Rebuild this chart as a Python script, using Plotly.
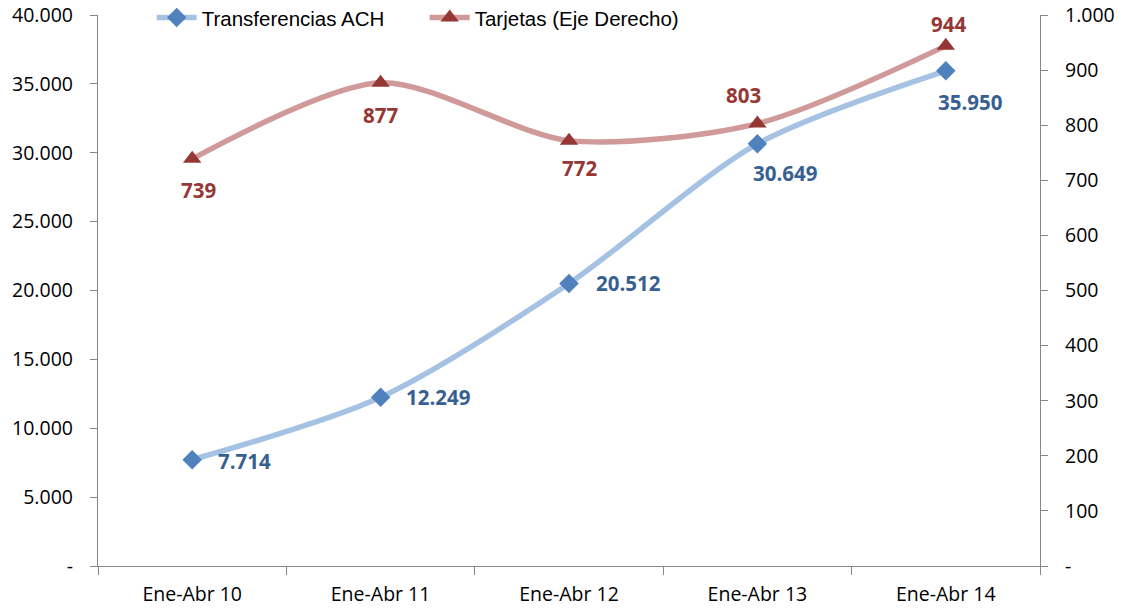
import plotly.graph_objects as go

categories = ["Ene-Abr 10", "Ene-Abr 11", "Ene-Abr 12", "Ene-Abr 13", "Ene-Abr 14"]
ach = [7714, 12249, 20512, 30649, 35950]
tarjetas = [739, 877, 772, 803, 944]
ach_labels = ["7.714", "12.249", "20.512", "30.649", "35.950"]
tar_labels = ["739", "877", "772", "803", "944"]
left_ticks = [0, 5000, 10000, 15000, 20000, 25000, 30000, 35000, 40000]
left_ticktext = ["-", "5.000", "10.000", "15.000", "20.000", "25.000", "30.000", "35.000", "40.000"]
right_ticks = [0, 100, 200, 300, 400, 500, 600, 700, 800, 900, 1000]
right_ticktext = ["-", "100", "200", "300", "400", "500", "600", "700", "800", "900", "1.000"]

# label placement styles (xanchor, yanchor, xshift, yshift)
ach_pos = [("left", "middle", 24, -1), ("left", "middle", 23, 0), ("left", "middle", 25, 0),
           ("center", "top", 28, -13), ("center", "top", 24, -15)]
tar_pos = [("center", "top", 6, -15), ("center", "top", 0, -16), ("center", "top", 10, -11),
           ("center", "bottom", -14, 13), ("center", "bottom", 3, 6)]

BLUE_LINE = "#A6C2E3"
BLUE_MK = "#4F81BD"
BLUE_TXT = "#376092"
RED_LINE = "#CF9A99"
RED_MK = "#953735"
RED_TXT = "#953735"
AXIS = "#888888"

fig = go.Figure()
fig.add_trace(go.Scatter(
    x=categories, y=ach, name="Transferencias ACH", mode="lines+markers",
    line=dict(color=BLUE_LINE, width=5.5, shape="spline", smoothing=0.8),
    marker=dict(symbol="diamond", size=15, color=BLUE_MK),
    yaxis="y"))
fig.add_trace(go.Scatter(
    x=categories, y=tarjetas, name="Tarjetas (Eje Derecho)", mode="lines+markers",
    line=dict(color=RED_LINE, width=5.5, shape="spline", smoothing=0.8),
    marker=dict(symbol="triangle-up", size=16, color=RED_MK),
    yaxis="y2"))

annotations = []
for c, v, t, (xa, ya, xs, ys) in zip(categories, ach, ach_labels, ach_pos):
    annotations.append(dict(x=c, y=v, xref="x", yref="y", text=t, showarrow=False,
                            xanchor=xa, yanchor=ya, xshift=xs, yshift=ys,
                            font=dict(family="Open Sans", size=20.5, color=BLUE_TXT, weight="bold")))
for c, v, t, (xa, ya, xs, ys) in zip(categories, tarjetas, tar_labels, tar_pos):
    annotations.append(dict(x=c, y=v, xref="x", yref="y2", text=t, showarrow=False,
                            xanchor=xa, yanchor=ya, xshift=xs, yshift=ys,
                            font=dict(family="Open Sans", size=20.5, color=RED_TXT, weight="bold")))

fig.update_layout(
    width=1126, height=609,
    margin=dict(l=98, r=86, t=15, b=43, autoexpand=False),
    paper_bgcolor="white", plot_bgcolor="white",
    font=dict(family="Open Sans", size=19.5, color="#000000"),
    showlegend=True,
    legend=dict(orientation="h", x=0.057, xanchor="left", y=0.995, yanchor="middle",
                font=dict(family="Liberation Sans", size=20.5, color="#000000"),
                bgcolor="rgba(0,0,0,0)", itemwidth=40, entrywidth=218),
    xaxis=dict(type="category", range=[-0.5, 4.5], tickson="boundaries",
               showline=True, linecolor=AXIS, linewidth=1.3, ticks="outside",
               ticklen=8, tickcolor=AXIS, showgrid=False, zeroline=False,
               ticklabelstandoff=10, ticklabeloverflow="allow",
               tickfont=dict(family="Open Sans", size=19.5)),
    yaxis=dict(range=[0, 40000], tickvals=left_ticks, ticktext=left_ticktext,
               showline=True, linecolor=AXIS, linewidth=1.3, ticks="outside",
               ticklen=7, tickcolor=AXIS, showgrid=False, zeroline=False,
               ticklabelstandoff=13, ticklabeloverflow="allow",
               tickfont=dict(family="Open Sans", size=19.5)),
    yaxis2=dict(range=[0, 1000], tickvals=right_ticks, ticktext=right_ticktext,
                overlaying="y", side="right",
                showline=True, linecolor=AXIS, linewidth=1.3, ticks="outside",
                ticklen=7, tickcolor=AXIS, showgrid=False, zeroline=False,
                ticklabelstandoff=13, ticklabeloverflow="allow",
                tickfont=dict(family="Open Sans", size=19.5)),
    annotations=annotations,
)

fig.write_html("out.html", config={"displayModeBar": False},
               post_script="document.body.style.margin='0';document.body.style.overflow='hidden';")
